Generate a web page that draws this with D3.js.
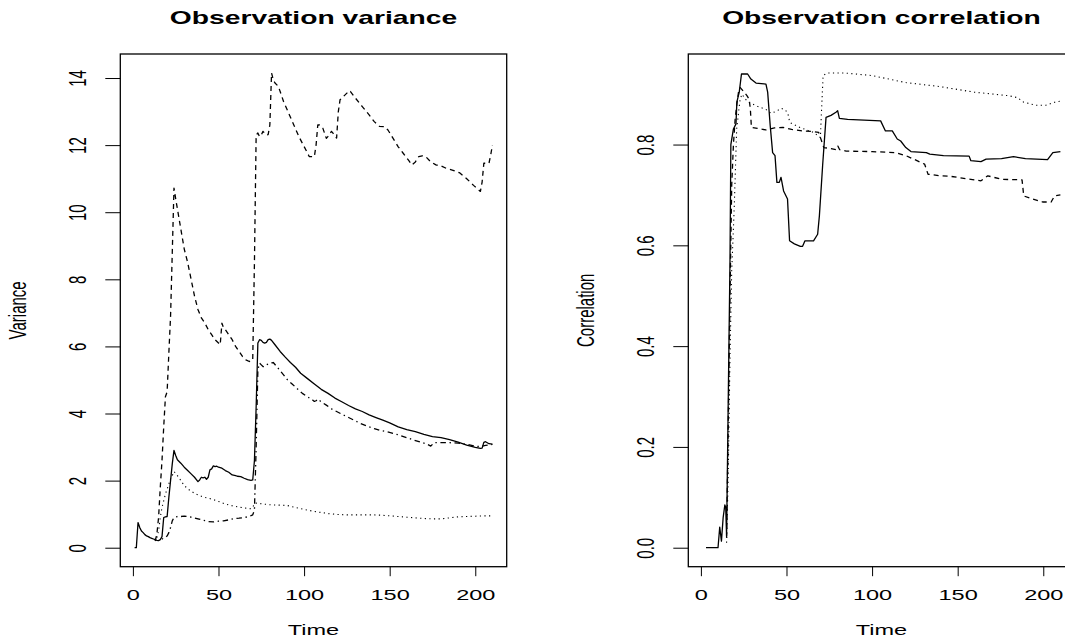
<!DOCTYPE html>
<html>
<head>
<meta charset="utf-8">
<script src="https://cdn.jsdelivr.net/npm/d3@7"></script>
<style>
  html, body { margin: 0; padding: 0; background: #fff; overflow: hidden; }
  text { font-family: "Liberation Sans", Arial, Helvetica, sans-serif; fill: #000; }
</style>
</head>
<body>
<div id="chart"></div>
<script>
// ---- data: [time, value] ----
const timeRange = [1, 210];
const xTicks = [0, 50, 100, 150, 200];
const varTicks = [0, 2, 4, 6, 8, 10, 12, 14];
const corTicks = [0, 0.2, 0.4, 0.6, 0.8];

const varSolid = [[1,0],[2,0],[3,0.75],[4,0.6],[5,0.5],[6,0.45],[7,0.39],[8,0.35],[9,0.33],[10,0.3],[11,0.28],[12,0.26],[13,0.24],[14,0.22],[15,0.21],[16,0.24],[17,0.33],[18,0.9],[19,0.92],[20,0.93],[21,1.5],[22,2.0],[23,2.5],[24,2.9],[25,2.75],[26,2.62],[28,2.52],[30,2.4],[32,2.3],[34,2.2],[36,2.1],[38,1.97],[39,2.02],[40,2.1],[41,2.08],[42,2.1],[43,2.04],[44,2.1],[45,2.32],[46,2.35],[47,2.44],[48,2.42],[49,2.43],[50,2.4],[52,2.37],[54,2.3],[56,2.25],[58,2.17],[60,2.15],[61,2.13],[63,2.12],[65,2.07],[67,2.03],[69,2.01],[70,2.02],[71,2.6],[72,4.2],[73,6.1],[74,6.2],[75,6.18],[76,6.12],[77,6.1],[78,6.12],[79,6.2],[80,6.22],[81,6.18],[83,6.05],[86,5.85],[89,5.68],[92,5.52],[95,5.38],[98,5.2],[102,5.04],[106,4.88],[110,4.72],[114,4.6],[118,4.46],[122,4.35],[126,4.24],[130,4.14],[134,4.06],[138,3.96],[142,3.88],[146,3.8],[150,3.72],[155,3.6],[160,3.52],[165,3.46],[170,3.38],[175,3.31],[180,3.28],[185,3.22],[190,3.15],[195,3.06],[200,2.99],[203,2.96],[204,2.97],[205,3.14],[206,3.16],[208,3.1],[210,3.09]];

const varDashed = [[13,0.2],[14,0.4],[15,0.9],[16,1.8],[17,2.6],[18,3.6],[19,4.5],[20,4.65],[21,5.8],[22,6.9],[23,8.8],[24,10.72],[25,10.4],[26,10.1],[28,9.5],[30,8.9],[32,8.5],[34,8.0],[36,7.5],[38,7.1],[40,6.85],[42,6.7],[44,6.5],[46,6.35],[48,6.2],[50,6.1],[51,6.05],[52,6.69],[53,6.55],[54,6.5],[56,6.35],[58,6.2],[60,6.0],[62,5.85],[64,5.7],[66,5.6],[68,5.55],[69,5.6],[70,5.6],[71,8.5],[72,12.3],[73,12.36],[74,12.25],[75,12.3],[76,12.41],[77,12.35],[78,12.3],[79,12.31],[80,12.6],[81,14.15],[82,13.95],[83,13.85],[85,13.75],[88,13.3],[91,12.95],[94,12.6],[97,12.25],[100,11.96],[103,11.66],[106,11.66],[107,12.0],[108,12.6],[109,12.6],[111,12.5],[113,12.2],[114,12.26],[116,12.41],[117,12.35],[119,12.21],[120,13.0],[121,13.35],[123,13.45],[125,13.55],[126,13.62],[127,13.6],[130,13.4],[134,13.15],[138,12.9],[141,12.7],[144,12.56],[147,12.55],[149,12.45],[152,12.2],[155,11.95],[158,11.75],[161,11.55],[163,11.41],[165,11.5],[167,11.66],[169,11.68],[171,11.66],[174,11.5],[177,11.41],[180,11.38],[183,11.31],[187,11.25],[191,11.17],[195,11.0],[199,10.8],[203,10.62],[204,10.9],[205,11.46],[208,11.46],[209,11.7],[210,12.0]];

const varDotted = [[14,0.3],[15,0.5],[16,0.9],[17,1.2],[18,1.4],[19,1.6],[20,1.75],[21,1.9],[22,2.05],[23,2.15],[24,2.27],[25,2.22],[27,2.08],[30,1.85],[33,1.72],[36,1.62],[39,1.55],[42,1.5],[46,1.45],[50,1.38],[54,1.3],[58,1.25],[62,1.21],[66,1.18],[69,1.16],[70,1.2],[71,1.32],[72,1.33],[75,1.31],[80,1.28],[85,1.27],[90,1.26],[95,1.2],[100,1.14],[105,1.09],[110,1.05],[115,1.01],[120,0.99],[125,0.98],[130,0.98],[135,0.98],[140,0.98],[145,0.97],[150,0.95],[155,0.93],[160,0.91],[165,0.89],[170,0.87],[175,0.86],[180,0.86],[185,0.89],[190,0.92],[195,0.93],[200,0.94],[205,0.95],[210,0.95]];

const varDashDot = [[17,0.25],[18,0.3],[19,0.32],[20,0.35],[21,0.45],[22,0.6],[23,0.8],[24,0.9],[26,0.93],[28,0.93],[30,0.94],[32,0.93],[35,0.9],[38,0.86],[41,0.82],[44,0.78],[47,0.77],[50,0.79],[53,0.8],[56,0.83],[59,0.87],[62,0.88],[65,0.9],[68,0.93],[70,0.98],[71,1.12],[72,3.0],[73,5.3],[74,5.5],[75,5.45],[76,5.4],[77,5.4],[78,5.45],[80,5.5],[82,5.52],[84,5.4],[86,5.28],[88,5.15],[90,5.02],[93,4.88],[96,4.74],[99,4.6],[102,4.5],[105,4.4],[106,4.36],[107,4.38],[108,4.43],[110,4.35],[113,4.25],[116,4.14],[119,4.06],[122,3.98],[126,3.88],[130,3.78],[133,3.7],[137,3.62],[141,3.55],[144,3.5],[148,3.46],[152,3.41],[156,3.35],[160,3.28],[164,3.21],[168,3.15],[172,3.08],[174,3.03],[175,3.08],[176,3.13],[180,3.13],[185,3.13],[190,3.12],[195,3.08],[200,3.03],[203,3.01],[206,3.05],[210,3.08]];

const corSolid = [[3,0],[6,0],[8,0],[10,0],[11,0.041],[12,0.013],[13,0.06],[14,0.085],[14.5,0.08],[15,0.024],[16,0.3],[17,0.57],[17.5,0.8],[19,0.831],[20.5,0.841],[21,0.884],[22.4,0.904],[23.7,0.94],[27.3,0.94],[29.2,0.93],[32.2,0.922],[38,0.92],[39,0.904],[40.5,0.837],[41.9,0.784],[43.3,0.778],[44.4,0.725],[45.8,0.725],[46.8,0.735],[48.3,0.708],[50.6,0.692],[51.8,0.609],[54.6,0.603],[58.1,0.598],[59.4,0.598],[60.8,0.609],[65.8,0.609],[68.2,0.622],[69.2,0.658],[71.1,0.758],[73.1,0.854],[76,0.858],[78.9,0.864],[79.9,0.867],[80.9,0.852],[85.7,0.85],[105,0.847],[107.8,0.827],[111.8,0.827],[114.7,0.811],[116.7,0.807],[119.7,0.794],[122.7,0.786],[131.7,0.784],[133.7,0.781],[141.7,0.778],[156.7,0.777],[157.7,0.768],[163.6,0.766],[166.6,0.771],[175.6,0.772],[182.6,0.776],[189.6,0.772],[202.5,0.77],[205.6,0.784],[210,0.786]];

const corDashed = [[15,0.02],[16,0.25],[17,0.5],[18,0.72],[19,0.8],[20,0.85],[21,0.88],[22,0.905],[23,0.913],[25,0.905],[26.9,0.897],[28.2,0.89],[28.9,0.87],[29.5,0.834],[33,0.832],[37.9,0.829],[43,0.833],[47.9,0.834],[53,0.83],[59.8,0.827],[65,0.826],[68.8,0.824],[71.8,0.794],[76,0.792],[79,0.79],[80,0.797],[81,0.79],[84.8,0.787],[100,0.786],[113.7,0.784],[119.7,0.778],[125,0.77],[130.7,0.761],[132.7,0.741],[140,0.738],[145.7,0.737],[157.7,0.731],[163.6,0.728],[167.6,0.738],[171,0.735],[175.6,0.731],[187.6,0.73],[188.6,0.698],[193.6,0.692],[199.6,0.686],[204.6,0.686],[206.6,0.698],[210,0.7]];

const corDotted = [[15,0.01],[16,0.15],[17,0.38],[18,0.55],[18.9,0.625],[19.5,0.678],[20.9,0.831],[22.9,0.89],[24,0.9],[26,0.89],[27.9,0.884],[33,0.876],[37.9,0.87],[41,0.862],[44,0.866],[47,0.872],[49.5,0.868],[50.9,0.86],[51.9,0.844],[57.8,0.834],[65.8,0.824],[69.8,0.814],[70.5,0.87],[71.4,0.937],[73.8,0.942],[83.8,0.942],[99.8,0.937],[119.7,0.923],[139.7,0.915],[159.6,0.904],[179.6,0.897],[185,0.893],[188.6,0.884],[195.6,0.878],[201.5,0.878],[207.5,0.885],[210,0.886]];

// line types like R's lty (picture is stretched sideways a bit)
const ltyDash = {solid: null, dashed: "5,4", dotted: "1.2,3.4", dotdash: "1.4,3.6,5.5,3.6"};

const W = 1065, H = 637;
const sx = 1.57; // horizontal stretch of all text

const svg = d3.select("#chart").append("svg")
    .attr("width", W)
    .attr("height", H);

// R style 4% padding
function rRange(ext) {
    const d = ext[1] - ext[0];
    return [ext[0] - 0.04 * d, ext[1] + 0.04 * d];
}

function stretched(sel, x, y, extra) {
    return sel.attr("transform", `translate(${x},${y}) scale(${sx},1)` + (extra || ""));
}

function drawPanel(opts) {
    const box = opts.box;
    const g = svg.append("g");

    const allVals = opts.series.flatMap(s => s.data.map(d => d[1]));
    const x = d3.scaleLinear().domain(rRange(timeRange)).range([box.x, box.x + box.w]);
    const y = d3.scaleLinear().domain(rRange(d3.extent(allVals))).range([box.y + box.h, box.y]);

    const line = d3.line()
        .x(d => x(d[0]))
        .y(d => y(d[1]));

    opts.series.forEach(s => {
        g.append("path")
            .datum(s.data)
            .attr("d", line)
            .attr("fill", "none")
            .attr("stroke", "#000")
            .attr("stroke-width", s.lty === "dotted" ? 1.1 : 1.3)
            .attr("stroke-dasharray", ltyDash[s.lty])
            .attr("stroke-linejoin", "round");
    });

    // box
    g.append("rect")
        .attr("x", box.x)
        .attr("y", box.y)
        .attr("width", box.w)
        .attr("height", box.h)
        .attr("fill", "none")
        .attr("stroke", "#000")
        .attr("stroke-width", 1.3);

    // bottom axis
    const xAxis = g.append("g")
        .attr("transform", `translate(0,${box.y + box.h})`)
        .call(d3.axisBottom(x).tickValues(xTicks).tickSizeOuter(0).tickSize(9.5));
    xAxis.select(".domain").remove();
    xAxis.selectAll("line").attr("stroke", "#000");
    xAxis.selectAll("text")
        .attr("y", null)
        .attr("dy", null)
        .style("font-size", "15px")
        .style("font-family", "\"Liberation Sans\", Arial, sans-serif")
        .attr("text-anchor", "middle")
        .attr("transform", `translate(0,33.5) scale(${sx},1)`);

    // left axis
    const yAxis = g.append("g")
        .attr("transform", `translate(${box.x},0)`)
        .call(d3.axisLeft(y).tickValues(opts.yTicks).tickFormat(opts.fmt).tickSizeOuter(0).tickSize(15));
    yAxis.select(".domain").remove();
    yAxis.selectAll("line").attr("stroke", "#000");
    yAxis.selectAll("text")
        .attr("x", null)
        .attr("dy", "0.36em")
        .style("font-size", "15px")
        .style("font-family", "\"Liberation Sans\", Arial, sans-serif")
        .attr("text-anchor", "middle")
        .attr("transform", `translate(-42.5,0) scale(${sx},1) rotate(-90)`);

    // title
    stretched(g.append("text"), box.x + box.w / 2, 24)
        .attr("text-anchor", "middle")
        .style("font-size", "18px")
        .style("font-weight", "bold")
        .text(opts.title);

    // axis labels
    stretched(g.append("text"), box.x + box.w / 2, 635)
        .attr("text-anchor", "middle")
        .style("font-size", "15px")
        .text("Time");

    stretched(g.append("text"), box.x - 103, box.y + box.h / 2, " rotate(-90)")
        .attr("text-anchor", "middle")
        .attr("dy", "0.36em")
        .style("font-size", "15px")
        .text(opts.ylab);
}

drawPanel({
    box: {x: 120.3, y: 54, w: 386.4, h: 512.7},
    title: "Observation variance",
    ylab: "Variance",
    yTicks: varTicks,
    fmt: d3.format("d"),
    series: [
        {data: varSolid, lty: "solid"},
        {data: varDashed, lty: "dashed"},
        {data: varDotted, lty: "dotted"},
        {data: varDashDot, lty: "dotdash"}
    ]
});

drawPanel({
    box: {x: 688.3, y: 54, w: 386.4, h: 512.7},
    title: "Observation correlation",
    ylab: "Correlation",
    yTicks: corTicks,
    fmt: d3.format(".1f"),
    series: [
        {data: corSolid, lty: "solid"},
        {data: corDashed, lty: "dashed"},
        {data: corDotted, lty: "dotted"}
    ]
});
</script>
</body>
</html>
